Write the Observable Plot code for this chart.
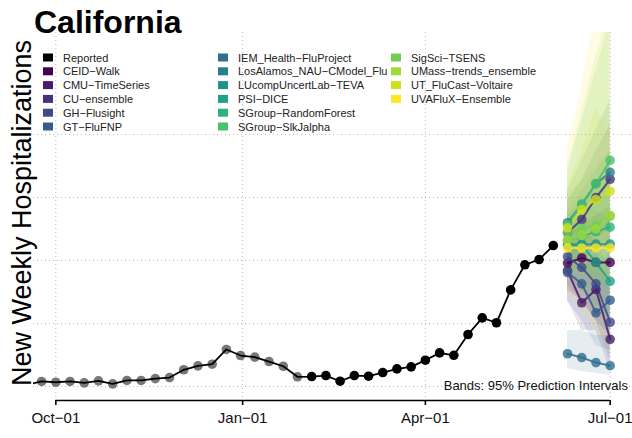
<!DOCTYPE html>
<html>
<head>
<meta charset="utf-8">
<script src="https://cdn.jsdelivr.net/npm/d3@7"></script>
<script src="https://cdn.jsdelivr.net/npm/@observablehq/plot@0.6"></script>
<style>
  html, body { margin: 0; padding: 0; background: #fff; }
  #chart { width: 632px; height: 438px; }
  svg { font-family: "Liberation Sans", Arial, Helvetica, sans-serif; }
</style>
</head>
<body>
<div id="chart"></div>
<script>
// ---------------- data ----------------
const title = "California";
const yLabel = "New Weekly Hospitalizations";
const caption = "Bands: 95% Prediction Intervals";

const reportedStart = "2022-09-17";           // first weekly (Saturday) date
const reportedValues = [15, 40, 34, 40, 29, 45, 21, 48, 48, 63, 71, 133, 164, 177, 294, 246, 233, 198, 161, 77,
                        79, 87, 42, 87, 82, 111, 140, 156, 209, 267, 248, 413, 545, 506, 767, 966, 1008, 1119];
const grayUntil = "2023-01-28";               // older reports drawn in gray

const xTickDates = ["2022-10-01", "2023-01-01", "2023-04-01", "2023-07-01"];
const yGridValues = [0, 500, 1000, 1500, 2000];

const models = ["CEID-Walk", "CMU-TimeSeries", "CU-ensemble", "GH-Flusight", "GT-FluFNP",
  "IEM_Health-FluProject", "LosAlamos_NAU-CModel_Flu", "LUcompUncertLab-TEVA", "PSI-DICE",
  "SGroup-RandomForest", "SGroup-SlkJalpha", "SigSci-TSENS", "UMass-trends_ensemble",
  "UT_FluCast-Voltaire", "UVAFluX-Ensemble"];
const modelColors = ["#440154", "#481B6D", "#46337E", "#3F4889", "#365C8D", "#2E6E8E", "#277F8E",
  "#21908C", "#1FA187", "#2DB27D", "#4AC16D", "#71CF57", "#9FDA3A", "#CFE11C", "#FDE725"];

const forecastDates = ["2023-06-10", "2023-06-17", "2023-06-24", "2023-07-01"];
const forecastMedian = [
  [980, 1020, 985, 985],
  [920, 665, 770, 375],
  [1220, 1325, 1500, 1645],
  [1030, 945, 815, 510],
  [905, 815, 585, 685],
  [260, 230, 190, 165],
  [1300, 1445, 1610, 1700],
  [1125, 1130, 1130, 1130],
  [1120, 1125, 985, 835],
  [1160, 1195, 1230, 1265],
  [1285, 1450, 1610, 1795],
  [1220, 1255, 1280, 1350],
  [1160, 1200, 1250, 1360],
  [1260, 1405, 1485, 1550],
  [1100, 1100, 1100, 1100]
];
const forecastLower = [
  [762, 683, 524, 405],
  [683, 444, 444, 127],
  [960, 1000, 1079, 1159],
  [802, 683, 524, 206],
  [683, 524, 325, 286],
  [143, 119, 103, 87],
  [1040, 1119, 1198, 1238],
  [881, 762, 643, 524],
  [881, 802, 603, 444],
  [960, 921, 841, 762],
  [1000, 1079, 1159, 1238],
  [960, 921, 881, 881],
  [921, 881, 841, 802],
  [1040, 1119, 1119, 1119],
  [762, 603, 444, 286]
];
const forecastUpper = [
  [1198, 1278, 1357, 1437],
  [1119, 921, 1079, 762],
  [1476, 1635, 1873, 2071],
  [1278, 1238, 1159, 921],
  [1159, 1119, 921, 1079],
  [444, 444, 405, 405],
  [1556, 1794, 2032, 2270],
  [1357, 1476, 1595, 1714],
  [1357, 1437, 1397, 1318],
  [1397, 1556, 1714, 1873],
  [1714, 2111, 2508, 2905],
  [1516, 1635, 1754, 1873],
  [1754, 2190, 2627, 2984],
  [1595, 1873, 2206, 2032],
  [1889, 2389, 2984, 3460]
];

const xDomain = ["2022-09-20", "2023-07-12"];
const yDomain = [-111, 2810];

// ---------------- tables ----------------
const parse = d3.utcParse("%Y-%m-%d");
const start = parse(reportedStart);
const grayEnd = parse(grayUntil);
const reported = reportedValues.map((v, i) => ({date: d3.utcDay.offset(start, 7 * i), value: v}));
const grayPts = reported.filter(d => d.date <= grayEnd);
const blackPts = reported.filter(d => d.date > grayEnd);

const fc = [];
models.forEach((m, k) => {
  forecastDates.forEach((ds, j) => {
    fc.push({model: m, date: parse(ds), median: forecastMedian[k][j], lo: forecastLower[k][j], hi: forecastUpper[k][j]});
  });
});
const xTicks = xTickDates.map(parse);
const fmt = d => d3.utcFormat("%b")(d) + "\u2212" + d3.utcFormat("%d")(d);

// ---------------- plot ----------------
const plot = Plot.plot({
  width: 632,
  height: 438,
  marginLeft: 33,
  marginRight: 0,
  marginTop: 32,
  marginBottom: 38,
  style: {fontFamily: "'Liberation Sans', Arial, Helvetica, sans-serif", color: "#111", background: "#fff"},
  x: {type: "utc", domain: xDomain.map(parse)},
  y: {domain: yDomain, axis: null},
  color: {domain: models, range: modelColors},
  marks: [
    Plot.gridY(yGridValues, {stroke: "#b8b8b8", strokeOpacity: 1, strokeDasharray: "1,3"}),
    Plot.gridX(xTicks, {stroke: "#b8b8b8", strokeOpacity: 1, strokeDasharray: "1,3"}),
    Plot.areaY(fc, {x: "date", y1: "lo", y2: "hi", z: "model", fill: "model", fillOpacity: 0.12, clip: true}),
    Plot.dot(grayPts, {x: "date", y: "value", r: 4.8, fill: "#555", fillOpacity: 0.8, clip: true}),
    Plot.line(reported, {x: "date", y: "value", stroke: "black", strokeWidth: 1.8, clip: true}),
    Plot.dot(blackPts, {x: "date", y: "value", r: 4.8, fill: "black", clip: true}),
    Plot.line(fc, {x: "date", y: "median", z: "model", stroke: "model", strokeWidth: 2, strokeOpacity: 0.85, clip: true}),
    Plot.dot(fc, {x: "date", y: "median", fill: "model", r: 4.8, fillOpacity: 0.8, clip: true}),
    Plot.ruleY([yDomain[0]], {x1: xTicks[0], x2: xTicks[xTicks.length - 1], stroke: "black", strokeWidth: 1.6}),
    Plot.axisX(xTicks, {tickSize: 5, tickPadding: 7, tickFormat: fmt, fontSize: 15, strokeWidth: 1.6, stroke: "black", fill: "#111"})
  ]
});

document.getElementById("chart").appendChild(plot);

// ---------------- annotations (text) ----------------
const svg = d3.select(plot);
svg.append("text").attr("x", 34).attr("y", 33).attr("text-anchor", "start")
  .attr("font-size", 32).attr("font-weight", "bold").attr("fill", "#000").text(title);

svg.append("text").attr("transform", "translate(31,213) rotate(-90)")
  .attr("text-anchor", "middle").attr("font-size", 27).attr("fill", "#000").text(yLabel);

svg.append("text").attr("x", 628).attr("y", 390).attr("text-anchor", "end")
  .attr("font-size", 13).attr("fill", "#111").text(caption);

const legendNames = ["Reported"].concat(models);
const legendColors = ["#000000"].concat(modelColors);
const colX = [43, 218, 391];
legendNames.forEach((name, i) => {
  const col = Math.floor(i / 6), row = i % 6;
  const cy = 57.5 + row * 13.8;
  const g = svg.append("g");
  g.append("rect").attr("x", colX[col]).attr("y", cy - 4).attr("width", 10).attr("height", 8).attr("fill", legendColors[i]);
  g.append("text").attr("x", colX[col] + 20).attr("y", cy + 4).attr("text-anchor", "start")
    .attr("font-size", 11).attr("fill", "#222")
    .text(name.replace(/-/g, "\u2212"));
});
</script>
</body>
</html>
